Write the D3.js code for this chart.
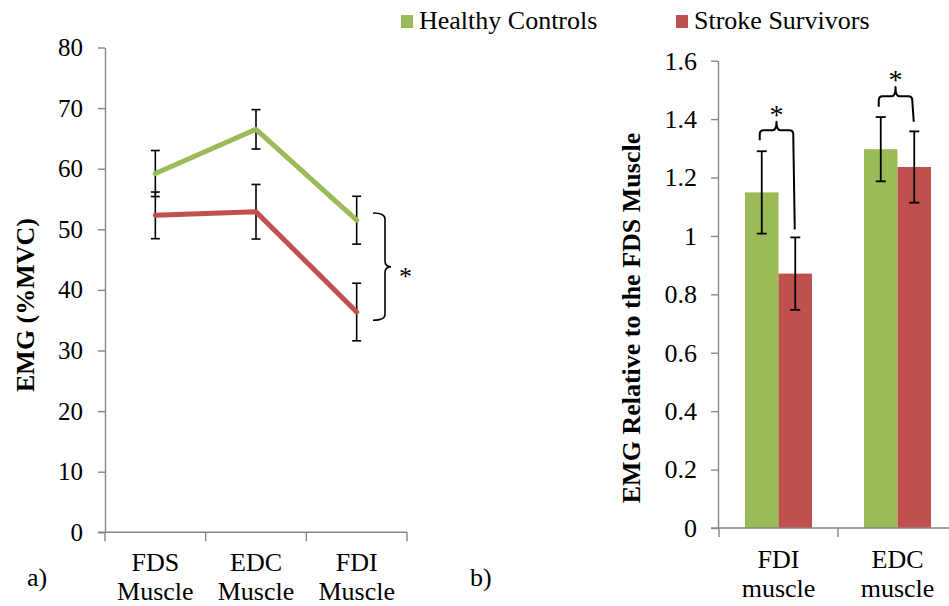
<!DOCTYPE html>
<html>
<head>
<meta charset="utf-8">
<script src="https://cdn.jsdelivr.net/npm/d3@7"></script>
<style>
  body { margin: 0; background: #fff; }
  svg { display: block; }
  text { font-family: "Liberation Serif", "Times New Roman", serif; fill: #000; }
  .axis path, .axis line { stroke: #868686; stroke-width: 1.4; }
</style>
</head>
<body>
<div id="chart"></div>
<script>
// ---- data ----
const muscles = ["FDS", "EDC", "FDI"];
const muscleLabel = "Muscle";
const healthyEmg = [59.2, 66.5, 51.5];
const healthyEmgErr = [3.8, 3.25, 3.95];
const strokeEmg = [52.3, 52.9, 36.35];
const strokeEmgErr = [3.85, 4.5, 4.75];
const emgTicks = [0, 10, 20, 30, 40, 50, 60, 70, 80];

const relCats = ["FDI", "EDC"];
const relLabel = "muscle";
const healthyRel = [1.149, 1.297];
const healthyRelErr = [0.141, 0.11];
const strokeRel = [0.871, 1.236];
const strokeRelErr = [0.124, 0.122];
const relTicks = [0, 0.2, 0.4, 0.6, 0.8, 1, 1.2, 1.4, 1.6];

const seriesNames = ["Healthy Controls", "Stroke Survivors"];
const seriesColors = ["#9bbb59", "#c0504d"];

// significance brackets, in data units
const bracketA = { top: 52.7, mid: 43.8, bottom: 35.0 };
const bracketsB = [
  { cat: "FDI", leftLow: 1.328, high: 1.362, peak: 1.391, rightLow: 1.022 },
  { cat: "EDC", leftLow: 1.442, high: 1.478, peak: 1.51, rightLow: 1.391 }
];

const W = 949, H = 606;
const FONT = "Liberation Serif";
const svg = d3.select("#chart").append("svg").attr("width", W).attr("height", H)
  .attr("font-family", FONT);

// ================= panel a) =================
const xA = d3.scaleBand().domain(muscles).range([105, 407]);
const yA = d3.scaleLinear().domain([0, 80]).range([532.3, 47.5]);

svg.append("g").attr("class", "axis")
  .attr("transform", "translate(105,0)")
  .call(d3.axisLeft(yA).tickValues(emgTicks).tickSize(7).tickPadding(15).tickSizeOuter(0))
  .call(g => g.selectAll("text").style("font-size", "25px").style("font-family", FONT));

// category axis with ticks on band edges
const gxA = svg.append("g").attr("class", "axis");
gxA.append("line").attr("x1", 98).attr("x2", xA.range()[1])
  .attr("y1", yA(0)).attr("y2", yA(0));
gxA.selectAll(".tk").data(muscles.map(m => xA(m)).concat([xA.range()[1]]))
  .enter().append("line")
  .attr("x1", d => d).attr("x2", d => d)
  .attr("y1", yA(0)).attr("y2", yA(0) + 9);
muscles.forEach(m => {
  const t = svg.append("text").attr("text-anchor", "middle").style("font-size", "26px")
    .attr("x", xA(m) + xA.bandwidth() / 2);
  t.append("tspan").attr("x", xA(m) + xA.bandwidth() / 2).attr("y", 571).text(m);
  t.append("tspan").attr("x", xA(m) + xA.bandwidth() / 2).attr("y", 600).text(muscleLabel);
});

const cxA = m => xA(m) + xA.bandwidth() / 2;
const seriesA = [
  { vals: healthyEmg, err: healthyEmgErr, color: seriesColors[0] },
  { vals: strokeEmg, err: strokeEmgErr, color: seriesColors[1] }
];
const lineA = d3.line().x((d, i) => cxA(muscles[i])).y(d => yA(d));

// error bars
seriesA.forEach(s => {
  const g = svg.append("g").attr("stroke", "#000").attr("stroke-width", 1.6);
  s.vals.forEach((v, i) => {
    const x = cxA(muscles[i]);
    g.append("line").attr("x1", x).attr("x2", x).attr("y1", yA(v - s.err[i])).attr("y2", yA(v + s.err[i]));
    [v - s.err[i], v + s.err[i]].forEach(e => {
      g.append("line").attr("x1", x - 4.5).attr("x2", x + 4.5).attr("y1", yA(e)).attr("y2", yA(e));
    });
  });
});
seriesA.forEach(s => {
  svg.append("path").datum(s.vals).attr("d", lineA)
    .attr("fill", "none").attr("stroke", s.color).attr("stroke-width", 5)
    .attr("stroke-linejoin", "round").attr("stroke-linecap", "round");
});

// bracket + star
{
  const bx = 385, y1 = yA(bracketA.top), ym = yA(bracketA.mid), y2 = yA(bracketA.bottom);
  svg.append("path")
    .attr("d", `M${bx - 12},${y1} Q${bx},${y1} ${bx},${y1 + 6} V${ym - 6} Q${bx},${ym} ${bx + 6},${ym}`
      + ` Q${bx},${ym} ${bx},${ym + 6} V${y2 - 6} Q${bx},${y2} ${bx - 12},${y2}`)
    .attr("fill", "none").attr("stroke", "#000").attr("stroke-width", 1.6);
  svg.append("text").attr("x", 399).attr("y", ym + 18).style("font-size", "26px").text("*");
}

svg.append("text")
  .attr("transform", "translate(34,305) rotate(-90)")
  .attr("text-anchor", "middle").style("font-size", "26px").style("font-weight", "bold")
  .text("EMG (%MVC)");
svg.append("text").attr("x", 27).attr("y", 586).style("font-size", "26px").text("a)");

// ================= panel b) =================
const xB = d3.scaleBand().domain(relCats).range([719, 957]);
const yB = d3.scaleLinear().domain([0, 1.6]).range([528, 60.7]);
const xSub = d3.scaleBand().domain([0, 1]).range([0, 67]);
const groupX = c => xB(c) + (xB.bandwidth() - 67) / 2;

svg.append("g").attr("class", "axis")
  .attr("transform", "translate(718,0)")
  .call(d3.axisLeft(yB).tickValues(relTicks).tickSize(7).tickPadding(14).tickSizeOuter(0)
    .tickFormat(d3.format("~g")))
  .call(g => g.selectAll("text").style("font-size", "26px").style("font-family", FONT));

const seriesB = [
  { vals: healthyRel, err: healthyRelErr },
  { vals: strokeRel, err: strokeRelErr }
];
seriesB.forEach((s, si) => {
  svg.append("g").selectAll("rect").data(s.vals).enter().append("rect")
    .attr("x", (d, i) => groupX(relCats[i]) + xSub(si))
    .attr("width", xSub.bandwidth())
    .attr("y", d => yB(d))
    .attr("height", d => yB(0) - yB(d))
    .attr("fill", seriesColors[si]);
});

const gxB = svg.append("g").attr("class", "axis");
gxB.append("line").attr("x1", 711).attr("x2", xB.range()[1]).attr("y1", yB(0)).attr("y2", yB(0));
gxB.selectAll(".tk").data(relCats.map(c => xB(c)).concat([xB.range()[1]]))
  .enter().append("line")
  .attr("x1", d => d).attr("x2", d => d)
  .attr("y1", yB(0)).attr("y2", yB(0) + 9);
relCats.forEach(c => {
  const cx = xB(c) + xB.bandwidth() / 2;
  const t = svg.append("text").attr("text-anchor", "middle").style("font-size", "26px");
  t.append("tspan").attr("x", cx).attr("y", 568).text(c);
  t.append("tspan").attr("x", cx).attr("y", 597).text(relLabel);
});

const barCx = (c, si) => groupX(c) + xSub(si) + xSub.bandwidth() / 2;
seriesB.forEach((s, si) => {
  const g = svg.append("g").attr("stroke", "#000").attr("stroke-width", 1.8);
  s.vals.forEach((v, i) => {
    const x = barCx(relCats[i], si);
    g.append("line").attr("x1", x).attr("x2", x).attr("y1", yB(v - s.err[i])).attr("y2", yB(v + s.err[i]));
    [v - s.err[i], v + s.err[i]].forEach(e => {
      g.append("line").attr("x1", x - 5).attr("x2", x + 5).attr("y1", yB(e)).attr("y2", yB(e));
    });
  });
});

bracketsB.forEach(b => {
  const xl = barCx(b.cat, 0) - 2, xr = barCx(b.cat, 1) - 2, xm = (xl + xr) / 2;
  const yh = yB(b.high), yp = yB(b.peak);
  svg.append("path")
    .attr("d", `M${xl},${yB(b.leftLow)} V${yh + 4} Q${xl},${yh} ${xl + 4},${yh} H${xm - 4}`
      + ` Q${xm},${yh} ${xm},${yp}` + ` Q${xm},${yh} ${xm + 4},${yh} H${xr - 4}`
      + ` Q${xr},${yh} ${xr},${yh + 4} L${xr + 1.5},${yB(b.rightLow)}`)
    .attr("fill", "none").attr("stroke", "#000").attr("stroke-width", 2)
    .attr("stroke-linejoin", "round");
  svg.append("text").attr("x", xm).attr("y", yp + 2).attr("text-anchor", "middle")
    .style("font-size", "28px").text("*");
});

svg.append("text")
  .attr("transform", "translate(640,318) rotate(-90)")
  .attr("text-anchor", "middle").style("font-size", "26px").style("font-weight", "bold")
  .text("EMG Relative to the FDS Muscle");
svg.append("text").attr("x", 470).attr("y", 586).style("font-size", "26px").text("b)");

// legend
const legX = [401, 676];
seriesNames.forEach((n, i) => {
  svg.append("rect").attr("x", legX[i]).attr("y", 15).attr("width", 12).attr("height", 13)
    .attr("fill", seriesColors[i]);
  svg.append("text").attr("x", legX[i] + 18).attr("y", 29).style("font-size", "26px").text(n);
});
</script>
</body>
</html>
